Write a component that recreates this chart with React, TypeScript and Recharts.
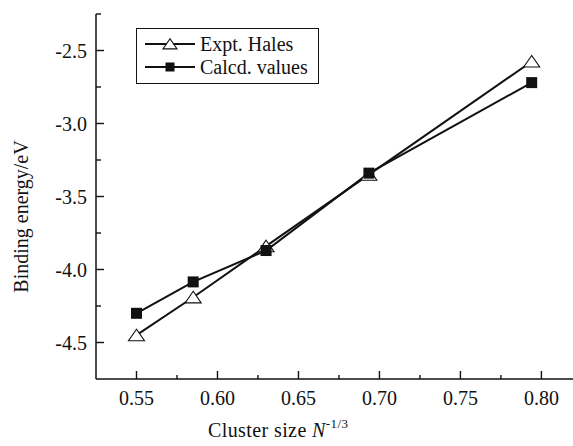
import { LineChart, Line, XAxis, YAxis, Legend, Label } from 'recharts';

// cluster size N^-1/3 and binding energies (eV)
const clusterSize = [0.55, 0.585, 0.63, 0.6935, 0.794];
const exptHales = [-4.45, -4.19, -3.84, -3.35, -2.575];
const calcdValues = [-4.3, -4.085, -3.87, -3.34, -2.72];
const xTicks = [0.55, 0.575, 0.6, 0.625, 0.65, 0.675, 0.7, 0.725, 0.75, 0.775, 0.8];
const yTicks = [-4.5, -4.25, -4.0, -3.75, -3.5, -3.25, -3.0, -2.75, -2.5, -2.25];
const legendOrder = ['expt', 'calcd'];

const data = clusterSize.map((x, i) => ({ x, expt: exptHales[i], calcd: calcdValues[i] }));

const FONT = "'Liberation Serif', 'Times New Roman', serif";
const INK = '#111';

const Triangle = ({ cx, cy, size = 8 }: any) => {
  if (cx == null || cy == null) return null;
  return (
    <polygon
      points={`${cx},${cy - size * 0.75} ${cx - size},${cy + size * 0.7} ${cx + size},${cy + size * 0.7}`}
      fill="#fff"
      stroke={INK}
      strokeWidth={1.1}
    />
  );
};

const Square = ({ cx, cy, size = 5.5 }: any) => {
  if (cx == null || cy == null) return null;
  return <rect x={cx - size} y={cy - size} width={size * 2} height={size * 2} fill={INK} />;
};

// major ticks get a label, minor ones only a short inward mark
const XTick = ({ x, y, payload }: any) => {
  const v = payload.value;
  const major = Math.round(v * 1000) % 50 === 0;
  return (
    <g>
      <line x1={x} x2={x} y1={y} y2={y - (major ? 8 : 4)} stroke={INK} strokeWidth={1.4} />
      {major && (
        <text x={x} y={y + 26} textAnchor="middle" fontFamily={FONT} fontSize={20} fill={INK}>
          {v.toFixed(2)}
        </text>
      )}
    </g>
  );
};

const YTick = ({ x, y, payload }: any) => {
  const v = payload.value;
  const major = Math.round(v * 100) % 50 === 0;
  return (
    <g>
      <line x1={x} x2={x + (major ? 8 : 5)} y1={y} y2={y} stroke={INK} strokeWidth={1.4} />
      {major && (
        <text x={x - 9} y={y} dy="0.35em" textAnchor="end" fontFamily={FONT} fontSize={20} fill={INK}>
          {v.toFixed(1)}
        </text>
      )}
    </g>
  );
};

const LegendBox = ({ payload }: any) => {
  const items = [...(payload || [])].sort(
    (a: any, b: any) => legendOrder.indexOf(a.dataKey) - legendOrder.indexOf(b.dataKey)
  );
  return (
    <div
      style={{
        position: 'relative',
        border: `1px solid ${INK}`,
        background: '#fff',
        width: 181,
        height: 54,
        fontFamily: FONT,
        fontSize: 20,
        color: INK,
      }}
    >
      {items.map((item: any, i: number) => (
        <div key={item.value} style={{ position: 'absolute', left: 0, top: 3 + i * 23.5, height: 23, display: 'flex', alignItems: 'center' }}>
          <svg width={62} height={22} style={{ display: 'block' }}>
            <line x1={8} x2={58} y1={11} y2={11} stroke={INK} strokeWidth={2} />
            {item.dataKey === 'expt' ? <Triangle cx={33} cy={11} size={7} /> : <Square cx={33} cy={11} size={4.5} />}
          </svg>
          <span style={{ marginLeft: 1, lineHeight: '22px' }}>{item.value}</span>
        </div>
      ))}
    </div>
  );
};

export default function App() {
  return (
    <div style={{ position: 'fixed', left: 0, top: 0, width: 573, height: 446, background: '#fff' }}>
      <LineChart width={573} height={446} data={data} margin={{ top: 14, right: 0, bottom: 0, left: 0 }}>
        <XAxis
          dataKey="x"
          type="number"
          domain={[0.525, 0.8195]}
          allowDataOverflow
          ticks={xTicks}
          tick={<XTick />}
          tickLine={false}
          tickSize={0}
          tickMargin={0}
          interval={0}
          height={67}
          axisLine={{ stroke: INK, strokeWidth: 1.5 }}
        >
          <Label
            content={({ viewBox }: any) => (
              <text x={viewBox.x + 112} y={viewBox.y + 58} fontFamily={FONT} fontSize={20} letterSpacing={0.4} fill={INK}>
                Cluster size <tspan fontStyle="italic">N</tspan>
                <tspan fontSize={13} dy={-9}>-1/3</tspan>
              </text>
            )}
          />
        </XAxis>
        <YAxis
          type="number"
          domain={[-4.75, -2.25]}
          allowDataOverflow
          ticks={yTicks}
          tick={<YTick />}
          tickLine={false}
          tickSize={0}
          tickMargin={0}
          interval={0}
          width={96}
          axisLine={{ stroke: INK, strokeWidth: 1.5 }}
        >
          <Label
            content={({ viewBox }: any) => {
              const cx = viewBox.x + 21;
              const cy = viewBox.y + viewBox.height / 2 + 20;
              return (
                <text
                  x={cx}
                  y={cy}
                  transform={`rotate(-90 ${cx} ${cy})`}
                  textAnchor="middle"
                  dy="0.35em"
                  fontFamily={FONT}
                  fontSize={20}
                  fill={INK}
                >
                  Binding energy/eV
                </text>
              );
            }}
          />
        </YAxis>
        <Legend
          layout="vertical"
          align="center"
          verticalAlign="middle"
          content={<LegendBox />}
          wrapperStyle={{ left: 136, top: 28, width: 183, height: 56 }}
        />
        <Line
          dataKey="expt"
          name="Expt. Hales"
          stroke={INK}
          strokeWidth={2}
          dot={<Triangle />}
          activeDot={false}
          isAnimationActive={false}
        />
        <Line
          dataKey="calcd"
          name="Calcd. values"
          stroke={INK}
          strokeWidth={2}
          dot={<Square />}
          activeDot={false}
          isAnimationActive={false}
        />
      </LineChart>
    </div>
  );
}
